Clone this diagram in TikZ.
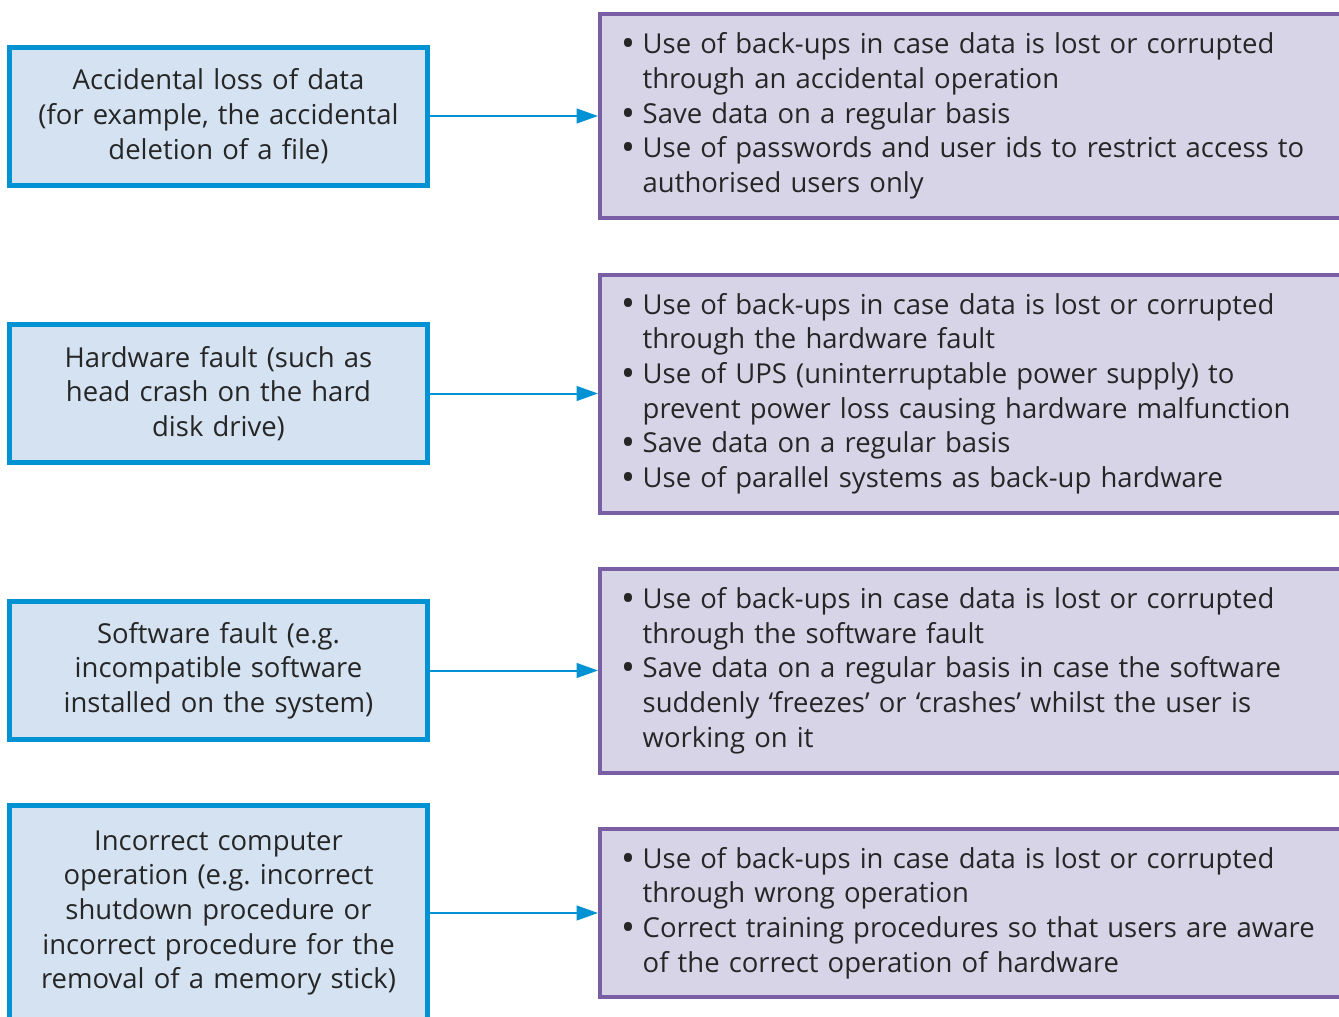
\documentclass[tikz,border=0pt]{standalone}
\usepackage{fontspec}
\usepackage{graphicx}
\setmainfont{Open Sans}
\frenchspacing
\usetikzlibrary{arrows.meta,positioning,calc}

\definecolor{causeblue}{RGB}{0,146,210}
\definecolor{causefill}{RGB}{212,226,241}
\definecolor{fixpurple}{RGB}{122,94,164}
\definecolor{fixfill}{RGB}{216,212,232}
\definecolor{inkgray}{RGB}{38,38,38}

\newcommand{\bpt}{\makebox[16pt][l]{\raisebox{-2.2pt}{\scalebox{1.35}{\textbullet}}}}
\newcommand{\cnt}{\hspace*{16pt}}

\tikzset{
  cause/.style={draw=causeblue, line width=3.75pt, fill=causefill, text=inkgray,
    minimum width=313pt, text width=305pt, inner sep=0pt, align=center,
    font=\fontsize{20.6}{26}\selectfont},
  fixbox/.style={draw=fixpurple, line width=3pt, fill=fixfill, text=inkgray,
    anchor=west, text width=540pt, inner xsep=16pt, inner ysep=0pt, align=left,
    font=\fontsize{20.6}{26}\selectfont},
  link/.style={draw=causeblue, line width=1.5pt, -{Triangle[length=16pt,width=11pt]}}
}

\begin{document}
\begin{tikzpicture}[x=0.75pt, y=-0.75pt]
  \useasboundingbox (0,0) rectangle (1339,1017);
  \clip (0,0) rectangle (1339,1017);

  % causes
  \node[cause, minimum height=103.5pt] (cause1) at (218.5,116)
    {Accidental loss of data\\(for example, the accidental\\deletion of a file)};
  \node[cause, minimum height=104pt] (cause2) at (218.5,393.5)
    {Hardware fault (such as\\head crash on the hard\\disk drive)};
  \node[cause, minimum height=104pt] (cause3) at (218.5,670.5)
    {Software fault (e.g.\\incompatible software\\installed on the system)};
  \node[cause, minimum height=161pt] (cause4) at (218.5,913)
    {Incorrect computer\\operation (e.g. incorrect\\shutdown procedure or\\incorrect procedure for the\\removal of a memory stick)};

  % remedies
  \node[fixbox, minimum height=153pt] (fix1) at (598,116)
    {\bpt Use of back-ups in case data is lost or corrupted\\
     \cnt through an accidental operation\\
     \bpt Save data on a regular basis\\
     \bpt Use of passwords and user ids to restrict access to\\
     \cnt authorised users only};
  \node[fixbox, minimum height=178.5pt] (fix2) at (598,393.5)
    {\bpt Use of back-ups in case data is lost or corrupted\\
     \cnt through the hardware fault\\
     \bpt Use of UPS (uninterruptable power supply) to\\
     \cnt prevent power loss causing hardware malfunction\\
     \bpt Save data on a regular basis\\
     \bpt Use of parallel systems as back-up hardware};
  \node[fixbox, minimum height=153pt] (fix3) at (598,670.5)
    {\bpt Use of back-ups in case data is lost or corrupted\\
     \cnt through the software fault\\
     \bpt Save data on a regular basis in case the software\\
     \cnt suddenly ‘freezes’ or ‘crashes’ whilst the user is\\
     \cnt working on it};
  \node[fixbox, minimum height=126pt] (fix4) at (598,913)
    {\bpt Use of back-ups in case data is lost or corrupted\\
     \cnt through wrong operation\\
     \bpt Correct training procedures so that users are aware\\
     \cnt of the correct operation of hardware};

  \foreach \i in {1,...,4}
    \draw[link] (cause\i.east) -- (fix\i.west);
\end{tikzpicture}
\end{document}
